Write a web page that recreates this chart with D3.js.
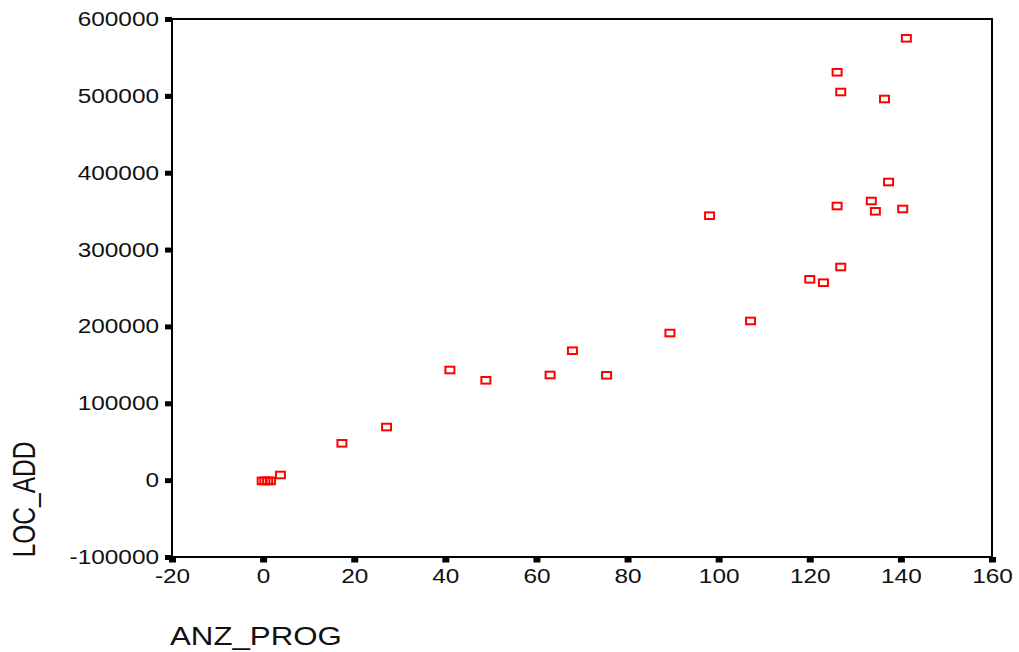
<!DOCTYPE html>
<html><head><meta charset="utf-8">
<script src="https://cdn.jsdelivr.net/npm/d3@7"></script>
<style>body{margin:0;background:#fff} svg{display:block}</style>
</head><body>
<svg id="chart" width="1019" height="652"></svg>
<script>
const xValues = [-0.2, 0.4, 1.0, 1.6, 3.8, 17.3, 27.1, 41.0, 48.9, 63.0, 67.9, 75.4, 89.3, 98.0, 107.0, 120.0, 123.0, 126.8, 126.0, 133.5, 134.4, 137.3, 140.4, 126.0, 126.8, 136.4, 141.2];
const yValues = [-1000, -1000, -1000, -1000, 6700, 47900, 69100, 143300, 129900, 136800, 168400, 136400, 191400, 344100, 207100, 261300, 256900, 277300, 356700, 363200, 349800, 387900, 352800, 530700, 505000, 495900, 574900];
const xTicks = [-20, 0, 20, 40, 60, 80, 100, 120, 140, 160];
const yTicks = [-100000, 0, 100000, 200000, 300000, 400000, 500000, 600000];
const xLabel = "ANZ_PROG";
const yLabel = "LOC_ADD";

(function () {
const svg = d3.select("#chart");
const mLeft = 172, mRight = 992, mTop = 19, mBottom = 557;
const SX = 1.25;
const font = "'Liberation Sans', Arial, sans-serif";

const x = d3.scaleLinear().domain([-20, 160]).range([mLeft, mRight]);
const y = d3.scaleLinear().domain([-100000, 600000]).range([mBottom, mTop]);

// Y axis
const ya = svg.append("g").attr("transform", `translate(${mLeft},0)`)
  .call(d3.axisLeft(y).tickValues(yTicks).tickSize(7).tickSizeOuter(0).tickFormat(d => String(d)));
ya.select(".domain").remove();
ya.selectAll(".tick line").attr("stroke", "#000").attr("stroke-width", 5);
ya.selectAll(".tick text")
  .attr("x", 0).attr("dy", null).attr("y", 6.5)
  .attr("transform", `translate(-13,0) scale(${SX},1)`)
  .attr("text-anchor", "end")
  .attr("font-size", 19.5).attr("font-family", font).attr("fill", "#111");

// X axis
const xa = svg.append("g").attr("transform", `translate(0,${mBottom})`)
  .call(d3.axisBottom(x).tickValues(xTicks).tickSize(5.5).tickSizeOuter(0).tickFormat(d => String(d)));
xa.select(".domain").remove();
xa.selectAll(".tick line").attr("stroke", "#000").attr("stroke-width", 7);
xa.selectAll(".tick text")
  .attr("x", 0).attr("dy", null).attr("y", 26)
  .attr("transform", `scale(${SX},1)`)
  .attr("text-anchor", "middle")
  .attr("font-size", 19.5).attr("font-family", font).attr("fill", "#111");

// Frame
svg.append("rect")
  .attr("x", mLeft).attr("y", mTop)
  .attr("width", mRight - mLeft).attr("height", mBottom - mTop)
  .attr("fill", "none").attr("stroke", "#000").attr("stroke-width", 2);

// Points
const pts = xValues.map((v, i) => ({x: v, y: yValues[i]}));
svg.append("g").selectAll("rect").data(pts).join("rect")
  .attr("x", d => x(d.x) - 4.5)
  .attr("y", d => y(d.y) - 3.3)
  .attr("width", 9).attr("height", 6.6)
  .attr("fill", "none").attr("stroke", "#ff0000").attr("stroke-width", 2);

// Axis titles
svg.append("text")
  .attr("transform", `translate(170,645) scale(${SX},1)`)
  .attr("font-size", 25).attr("font-family", font).attr("fill", "#111")
  .text(xLabel);
svg.append("text")
  .attr("transform", `translate(35,499.5) scale(${SX},1) rotate(-90)`)
  .attr("text-anchor", "middle")
  .attr("font-size", 24.5).attr("font-family", font).attr("fill", "#111")
  .text(yLabel);
})();
</script>
</body></html>
